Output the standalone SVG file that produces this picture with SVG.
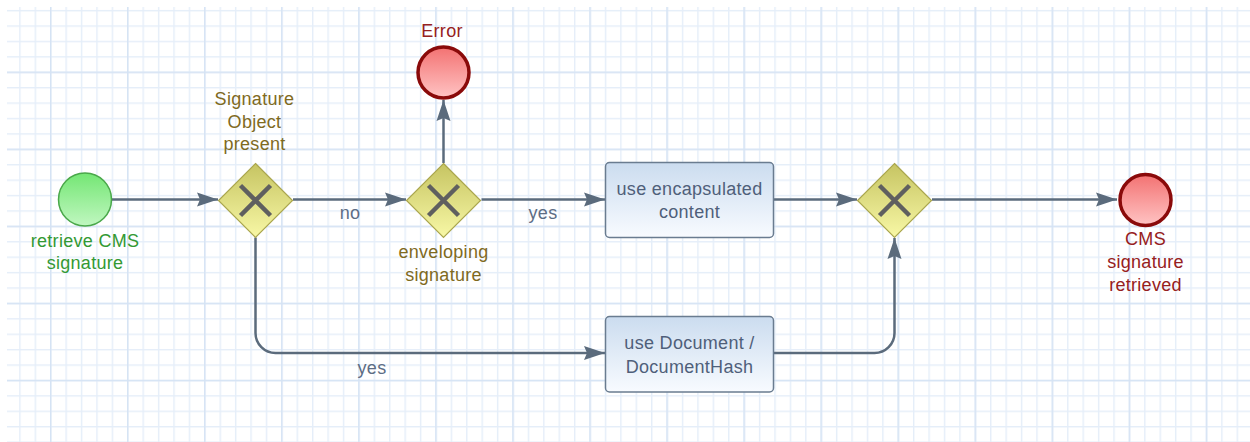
<svg xmlns="http://www.w3.org/2000/svg" width="1250" height="442" viewBox="0 0 1250 442">
<style>
text{font-family:"Liberation Sans",Arial,sans-serif;font-size:18px;letter-spacing:0.3px;text-anchor:middle}
.edge{fill:none;stroke:#5b6b7c;stroke-width:2.5}
.gw{fill:url(#gGw);stroke:#aaa64e;stroke-width:1.2}
.gx{stroke:#5f5f5f;stroke-width:4.5;stroke-linecap:butt}
.task{fill:url(#gTask);stroke:#6a7c90;stroke-width:1.5}
.tt{fill:#4f5f7a}
.el{fill:#5d6d85}
.gl{fill:#7f6a1e}
.rl{fill:#962020}
.endc{fill:url(#gEnd);stroke:#8a0a0a;stroke-width:3.5}
</style>
<defs>
<pattern id="gMinor" patternUnits="userSpaceOnUse" x="3.8" y="9.95" width="15.41" height="15.41">
<rect x="0" y="0" width="15.41" height="1.4" fill="#e5eef9"/>
<rect x="0" y="0" width="1.4" height="15.41" fill="#e5eef9"/>
</pattern>
<pattern id="gMajor" patternUnits="userSpaceOnUse" x="50" y="71.6" width="77.05" height="77.05">
<rect x="0" y="0" width="77.05" height="1.4" fill="#d5e3f4"/>
<rect x="0" y="0" width="1.4" height="77.05" fill="#d5e3f4"/>
</pattern>
<linearGradient id="gGw" x1="0" y1="0" x2="0" y2="1"><stop offset="0" stop-color="#c6c462"/><stop offset="1" stop-color="#f8f8a6"/></linearGradient>
<linearGradient id="gTask" x1="0" y1="0" x2="0" y2="1"><stop offset="0" stop-color="#cbdcef"/><stop offset="1" stop-color="#f8fbff"/></linearGradient>
<linearGradient id="gStart" x1="0" y1="0" x2="0" y2="1"><stop offset="0" stop-color="#74e674"/><stop offset="1" stop-color="#c0f7c0"/></linearGradient>
<linearGradient id="gEnd" x1="0" y1="0" x2="0" y2="1"><stop offset="0" stop-color="#f37272"/><stop offset="1" stop-color="#ffc4c4"/></linearGradient>
<marker id="arr" markerUnits="userSpaceOnUse" markerWidth="24" markerHeight="18" viewBox="0 -9 24 18" refX="21" refY="0" orient="auto">
<path d="M0,-7 L21,0 L0,7 L3,0 Z" fill="#5b6b7c"/>
</marker>
</defs>
<rect width="1250" height="442" fill="#ffffff"/>
<rect x="7" y="7" width="1243" height="435" fill="url(#gMinor)"/>
<rect x="7" y="7" width="1243" height="435" fill="url(#gMajor)"/>

<g id="connectors">
<path class="edge" d="M112,199.5 H218" marker-end="url(#arr)"/>
<path class="edge" d="M293,199.5 H406" marker-end="url(#arr)"/>
<path class="edge" d="M481.5,199.5 H605" marker-end="url(#arr)"/>
<path class="edge" d="M443.5,163 V100" marker-end="url(#arr)"/>
<path class="edge" d="M774,199.5 H857" marker-end="url(#arr)"/>
<path class="edge" d="M932,199.5 H1117" marker-end="url(#arr)"/>
<path class="edge" d="M255.5,237.5 V333 A20,20 0 0 0 275.5,353 H605" marker-end="url(#arr)"/>
<path class="edge" d="M774,353 H874.5 A20,20 0 0 0 894.5,333 V238" marker-end="url(#arr)"/>
<text class="el" x="350" y="218.5">no</text>
<text class="el" x="543" y="218.5">yes</text>
<text class="el" x="372" y="373.5">yes</text>
</g>

<g id="start">
<circle cx="85" cy="199.5" r="26.5" fill="url(#gStart)" stroke="#4aa84a" stroke-width="1.5"/>
<text x="85" y="246.5" fill="#339933">retrieve CMS</text>
<text x="85" y="269" fill="#339933">signature</text>
</g>

<g id="gw1">
<path class="gw" d="M255.5,163.5 L292.5,200.5 L255.5,237.5 L218.5,200.5 Z"/>
<path class="gx" d="M240.5,185.5 L270.5,215.5 M270.5,185.5 L240.5,215.5"/>
<text class="gl" x="254.5" y="104.5">Signature</text>
<text class="gl" x="254.5" y="127.5">Object</text>
<text class="gl" x="254.5" y="150">present</text>
</g>

<g id="gw2">
<path class="gw" d="M443.5,163.5 L480.5,200.5 L443.5,237.5 L406.5,200.5 Z"/>
<path class="gx" d="M428.5,185.5 L458.5,215.5 M458.5,185.5 L428.5,215.5"/>
<text class="gl" x="443.5" y="258">enveloping</text>
<text class="gl" x="443.5" y="280.5">signature</text>
</g>

<g id="error">
<circle class="endc" cx="443.5" cy="72.5" r="25.5"/>
<text class="rl" x="442" y="36.5">Error</text>
</g>

<g id="task1">
<rect class="task" x="605.5" y="162.5" width="168" height="75" rx="4"/>
<text class="tt" x="689.5" y="195">use encapsulated</text>
<text class="tt" x="689.5" y="218">content</text>
</g>

<g id="task2">
<rect class="task" x="605.5" y="316.5" width="168" height="75.5" rx="4"/>
<text class="tt" x="689.5" y="349">use Document /</text>
<text class="tt" x="689.5" y="372.5">DocumentHash</text>
</g>

<g id="gw3">
<path class="gw" d="M894.5,163.5 L931.5,200.5 L894.5,237.5 L857.5,200.5 Z"/>
<path class="gx" d="M879.5,185.5 L909.5,215.5 M909.5,185.5 L879.5,215.5"/>
</g>

<g id="end">
<circle class="endc" cx="1145.5" cy="200" r="25.5"/>
<text class="rl" x="1145.5" y="245">CMS</text>
<text class="rl" x="1145.5" y="268">signature</text>
<text class="rl" x="1145.5" y="291">retrieved</text>
</g>
</svg>
